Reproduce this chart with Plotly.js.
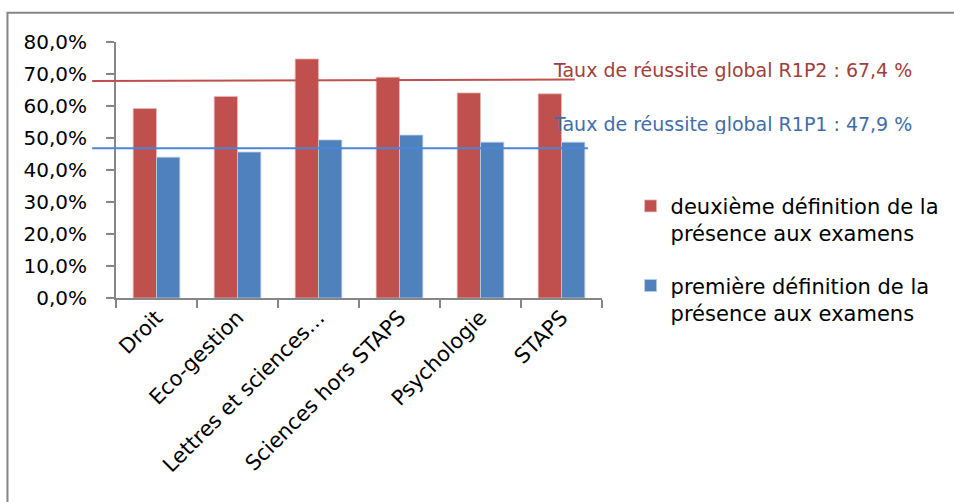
<!DOCTYPE html>
<html>
<head>
<meta charset="utf-8">
<script src="https://cdn.plot.ly/plotly-3.0.1.min.js"></script>
<style>html,body{margin:0;padding:0;background:#fff;}#chart{width:954px;height:502px;}</style>
</head>
<body>
<div id="chart"></div>
<script>
const categories = ["Droit", "Eco-gestion", "Lettres et sciences…", "Sciences hors STAPS", "Psychologie", "STAPS"];
const seriesNames = ["deuxième définition de la<br>présence aux examens", "première définition de la<br>présence aux examens"];
const deuxieme = [59.2, 63.0, 74.7, 69.0, 64.1, 63.8];
const premiere = [44.0, 45.6, 49.4, 50.9, 48.7, 48.7];
const globalLineLevels = [68.0, 46.8];
const globalLabels = ["Taux de réussite global R1P2 : 67,4 %", "Taux de réussite global R1P1 : 47,9 %"];
const yTickVals = [0, 10, 20, 30, 40, 50, 60, 70, 80];
const yTickText = ["0,0%", "10,0%", "20,0%", "30,0%", "40,0%", "50,0%", "60,0%", "70,0%", "80,0%"];

const red = "#C0504D", blue = "#4F81BD", gray = "#868686";
const font = "'DejaVu Sans', sans-serif";

const data = [
  {type: "bar", x: categories, y: deuxieme, name: seriesNames[0], legendgroup: "g1", marker: {color: red, line: {color: "#E6B9B8", width: 0.8}}, hoverinfo: "y"},
  {type: "bar", x: categories, y: premiere, name: seriesNames[1], legendgroup: "g2", marker: {color: blue, line: {color: "#B9CDE5", width: 0.8}}, hoverinfo: "y"}
];

const layout = {
  width: 954, height: 502,
  margin: {l: 116, r: 352, t: 42, b: 204},
  paper_bgcolor: "#fff", plot_bgcolor: "#fff",
  font: {family: font, color: "#000", size: 19},
  barmode: "group", bargap: 0.424, bargroupgap: 0,
  showlegend: true,
  legend: {xref: "container", yref: "container", x: 0.661, xanchor: "left", y: 0.63, yanchor: "top", valign: "top", traceorder: "grouped", font: {size: 21, family: font, color: "#000"}, tracegroupgap: 22, itemwidth: 30, bgcolor: "rgba(0,0,0,0)"},
  xaxis: {
    type: "category", showline: true, linecolor: gray, linewidth: 2,
    ticks: "outside", tickson: "boundaries", ticklen: 8, tickcolor: gray, tickwidth: 2,
    tickangle: -45, tickfont: {size: 21, family: font}, ticklabelstandoff: -3,
    showgrid: false, zeroline: false, automargin: false
  },
  yaxis: {
    range: [0, 80], showline: true, linecolor: gray, linewidth: 2,
    ticks: "outside", ticklen: 8, tickcolor: gray, tickwidth: 2,
    tickvals: yTickVals, ticktext: yTickText, tickfont: {size: 20, family: font},
    ticklabelstandoff: 15, showgrid: false, zeroline: false, automargin: false
  },
  shapes: [
    {type: "line", xref: "paper", yref: "y", x0: -0.049, x1: 0.944, y0: globalLineLevels[0] - 0.15, y1: globalLineLevels[0] + 0.3, line: {color: red, width: 2}},
    {type: "line", xref: "paper", yref: "y", x0: -0.049, x1: 0.971, y0: globalLineLevels[1], y1: globalLineLevels[1], line: {color: "#4A86D8", width: 2}},
    {type: "path", xref: "paper", yref: "paper", path: "M -0.2233,-0.81 L -0.2233,1.1145 L 1.9,1.1145", line: {color: gray, width: 2}}
  ],
  annotations: [
    {xref: "paper", yref: "y", x: 0.895, y: 71.4, xanchor: "left", yanchor: "middle", text: globalLabels[0], showarrow: false, font: {color: "#A0403D", size: 19, family: font}},
    {xref: "paper", yref: "y", x: 0.895, y: 58.5, xanchor: "left", yanchor: "top", valign: "top", height: 21, text: globalLabels[1], showarrow: false, font: {color: "#3F6DA8", size: 19, family: font}}
  ]
};

Plotly.newPlot("chart", data, layout, {displayModeBar: false, staticPlot: true});
</script>
</body>
</html>
